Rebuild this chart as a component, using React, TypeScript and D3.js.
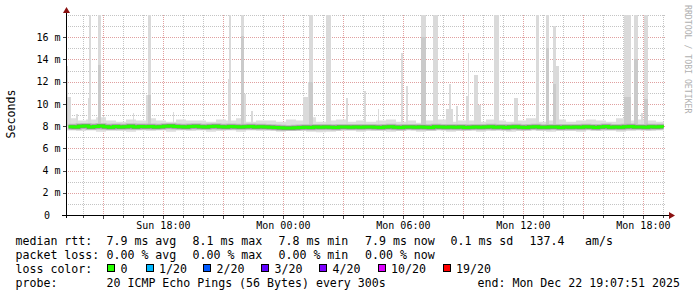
import React from "react";
import * as d3 from "d3";

// ---------- data ----------
const START = Date.UTC(2025, 11, 21, 13, 7, 51);
const END = Date.UTC(2025, 11, 22, 19, 7, 51);
const MIN = 60000;

// median rtt in ms, one value per 15 minutes
const medianMs = [
  7.95, 7.92, 7.98, 8.0, 7.93, 7.96, 8.02, 7.94, 7.9, 7.97, 7.93, 7.95, 7.99, 7.92, 7.96, 7.94, 7.97, 7.93, 7.95, 7.98,
  8.02, 7.97, 7.95, 7.93, 7.96, 7.99, 7.94, 7.92, 7.96, 7.98, 7.95, 7.93, 7.97, 7.95, 7.91, 7.94, 7.96, 7.93, 7.95, 7.92,
  7.9, 7.88, 7.85, 7.84, 7.83, 7.86, 7.88, 7.9, 7.87, 7.91, 7.89, 7.92, 7.9, 7.88, 7.91, 7.93, 7.9, 7.92, 7.89, 7.91,
  7.93, 7.9, 7.88, 7.92, 7.95, 7.9, 7.87, 7.91, 7.93, 7.89, 7.92, 7.9, 7.88, 7.94, 7.91, 7.89, 7.92, 7.9, 7.93, 7.88,
  7.9, 7.93, 7.89, 7.91, 7.95, 7.9, 7.92, 7.88, 7.91, 7.94, 7.9, 7.87, 7.92, 7.95, 7.9, 7.89, 7.93, 7.91, 7.88, 7.92,
  7.9, 7.93, 7.89, 7.95, 7.91, 7.88, 7.92, 7.96, 7.9, 7.93, 7.89, 7.94, 7.97, 7.91, 7.93, 7.9, 7.95, 7.92, 7.94, 7.9,
];

// smoke envelope in ms, one value per 30 minutes
const smokeHiMs = [
  8.7, 8.5, 8.6, 8.8, 8.5, 8.4, 8.6, 8.5, 8.7, 8.5,
  8.4, 8.6, 8.5, 8.5, 8.4, 8.6, 8.5, 8.7, 8.4, 8.5,
  8.5, 8.4, 8.6, 8.5, 8.8, 8.4, 8.5, 8.6, 8.4, 8.5,
  8.4, 8.5, 8.6, 8.4, 8.5, 8.3, 8.5, 8.6, 8.4, 8.5,
  8.5, 8.4, 8.6, 8.5, 8.4, 8.5, 8.7, 8.4, 8.5, 8.6,
  8.4, 8.5, 8.6, 8.5, 8.4, 8.7, 8.5, 8.6, 8.5, 8.4,
];
const smokeLoMs = [
  7.6, 7.55, 7.6, 7.5, 7.6, 7.55, 7.5, 7.6, 7.55, 7.6,
  7.5, 7.6, 7.55, 7.6, 7.5, 7.55, 7.6, 7.5, 7.6, 7.55,
  7.6, 7.5, 7.55, 7.6, 7.5, 7.45, 7.5, 7.55, 7.6, 7.5,
  7.55, 7.6, 7.5, 7.55, 7.6, 7.5, 7.55, 7.6, 7.5, 7.55,
  7.6, 7.5, 7.55, 7.6, 7.5, 7.55, 7.6, 7.55, 7.5, 7.6,
  7.55, 7.5, 7.6, 7.55, 7.6, 7.5, 7.55, 7.6, 7.55, 7.6,
];

// high-ping smoke spikes: 5-minute step index, number of steps, top (ms), inner top (ms, 0 = none)
const spikeStep = [0, 1, 6, 13, 14, 19, 22, 40, 48, 49, 64, 97, 98, 105, 107, 111, 142, 145, 146, 156, 168, 179, 187, 201, 204, 213, 220, 228, 230, 234, 240, 241, 245, 247, 257, 269, 282, 288, 292, 294, 335, 341, 345, 347];
const spikeSpan = [1, 2, 1, 2, 1, 2, 1, 1, 1, 2, 1, 2, 1, 2, 1, 1, 3, 1, 2, 3, 1, 1, 1, 1, 1, 3, 3, 4, 1, 1, 2, 1, 2, 2, 3, 2, 2, 2, 2, 2, 4, 2, 1, 2];
const spikeTopMs = [13.4, 10.6, 9.1, 10.5, 18, 18, 8.9, 9.2, 10.8, 18, 9.3, 12.2, 18, 18, 10.9, 9.4, 10.6, 12.0, 18, 18, 10.5, 11.2, 9.5, 14.6, 11.6, 18, 18, 9.5, 11.8, 9.8, 10.7, 14.6, 12.6, 9.9, 18, 10.5, 18, 18, 17, 13.4, 18, 18, 9.2, 18];
const spikeMidMs = [10.6, 0, 0, 0, 0, 13.5, 0, 0, 0, 10.8, 0, 0, 0, 16.1, 0, 0, 0, 0, 12.0, 0, 0, 0, 0, 0, 0, 16, 0, 0, 0, 0, 0, 0, 0, 0, 0, 0, 0, 15, 11.8, 0, 10.6, 14, 0, 10.4];

const yTicks = [0, 2, 4, 6, 8, 10, 12, 14, 16];
const yTickLabels = ["0", "2 m", "4 m", "6 m", "8 m", "10 m", "12 m", "14 m", "16 m"];

const legendRows: [number, string][][] = [
  [[16, "median rtt:"], [107, "7.9 ms avg"], [193, "8.1 ms max"], [279, "7.8 ms min"], [365.5, "7.9 ms now"], [451, "0.1 ms sd"], [530, "137.4"], [585.5, "am/s"]],
  [[16, "packet loss:"], [107, "0.00 % avg"], [193, "0.00 % max"], [279, "0.00 % min"], [365.5, "0.00 % now"]],
  [[16, "loss color:"]],
  [[16, "probe:"], [107, "20 ICMP Echo Pings (56 Bytes) every 300s"], [478, "end: Mon Dec 22 19:07:51 2025"]],
];
const lossLabels = ["0", "1/20", "2/20", "3/20", "4/20", "10/20", "19/20"];
const lossColors = ["#26ff00", "#00b8ff", "#0059ff", "#5e00ff", "#7e00ff", "#dd00ff", "#ff0000"];
const lossBoxX = [107, 145.5, 203, 261, 319, 377.5, 442.5];

// ---------- layout ----------
const W = 697, H = 297;
const X0 = 66, X1 = 666, Y0 = 215, Y1 = 15;
const MONO = "'DejaVu Sans Mono', monospace";

export default function App() {
  const x = d3.scaleUtc().domain([START, END]).range([X0, X1]);
  const y = d3.scaleLinear().domain([0, 18]).range([Y0, Y1]);
  const px = (v: number) => Math.round(v) + 0.5;

  const hours = x.ticks(d3.utcHour.every(1)!);
  const minorY = d3.range(1, 19);

  const smokePts: [number, number, number][] = [];
  smokeHiMs.forEach((hi, i) => {
    const t0 = START + i * 30 * MIN, t1 = t0 + 30 * MIN;
    smokePts.push([t0, smokeLoMs[i], hi], [t1, smokeLoMs[i], hi]);
  });
  const smokeArea = d3.area<[number, number, number]>()
    .x(d => x(d[0])).y0(d => y(d[1])).y1(d => y(d[2]));

  const medianLine = d3.line<number>()
    .x((_, i) => x(START + i * 15 * MIN + 7.5 * MIN))
    .y(d => y(d))
    .curve(d3.curveStepAfter);

  const fmt = d3.utcFormat("%a %H:%M");
  const labelTimes = hours.filter(t => t.getUTCHours() % 6 === 0);

  return (
    <svg width={W} height={H} style={{ position: "absolute", left: 0, top: 0, background: "#fff" }}
      xmlns="http://www.w3.org/2000/svg">
      <rect x={0} y={0} width={W} height={H} fill="#fff" />
      <defs>
        <clipPath id="plot"><rect x={X0 + 1} y={Y1} width={664 - X0 - 1} height={Y0 - Y1} /></clipPath>
      </defs>

      {/* grid */}
      <g shapeRendering="crispEdges">
        {minorY.filter(v => v % 2 !== 0 || v === 18).map(v => (
          <line key={"my" + v} x1={X0} x2={X1} y1={px(y(v))} y2={px(y(v))} stroke="#c4c4c4" strokeDasharray="1,1" />
        ))}
        {hours.filter(t => t.getUTCHours() % 3 !== 0).map(t => (
          <line key={"mx" + +t} x1={px(x(t))} x2={px(x(t))} y1={Y1} y2={Y0} stroke="#c4c4c4" strokeDasharray="1,1" />
        ))}
        {yTicks.filter(v => v > 0).map(v => (
          <line key={"My" + v} x1={X0} x2={X1} y1={px(y(v))} y2={px(y(v))} stroke="#e0a0a0" strokeDasharray="1,1" />
        ))}
        {hours.filter(t => t.getUTCHours() % 3 === 0).map(t => (
          <line key={"Mx" + +t} x1={px(x(t))} x2={px(x(t))} y1={Y1} y2={Y0} stroke="#e0a0a0" strokeDasharray="1,1" />
        ))}
      </g>

      {/* smoke */}
      <g clipPath="url(#plot)">
        <path d={smokeArea(smokePts) || ""} fill="#dedede" />
        <g shapeRendering="crispEdges">
          {spikeStep.map((s, i) => {
            const xa = x(START + s * 5 * MIN);
            const w = spikeSpan[i] * 600 / 360;
            return (
              <g key={"sp" + i}>
                <rect x={xa} width={w} y={y(spikeTopMs[i])} height={y(8) - y(spikeTopMs[i])} fill="#dadada" />
                {spikeMidMs[i] > 0 && (
                  <rect x={xa} width={w} y={y(spikeMidMs[i])} height={y(8) - y(spikeMidMs[i])} fill="#cacaca" />
                )}
              </g>
            );
          })}
        </g>
        <path d={medianLine(medianMs) || ""} fill="none" stroke="#bdbdbd" strokeWidth={6} />
        <path d={medianLine(medianMs) || ""} fill="none" stroke="#8a8a8a" strokeWidth={4} />
        <path d={medianLine(medianMs) || ""} fill="none" stroke="#26ff00" strokeWidth={3} />
      </g>

      {/* axes */}
      <g shapeRendering="crispEdges" stroke="#000">
        <line x1={62} x2={670} y1={Y0 + 0.5} y2={Y0 + 0.5} />
        <line x1={X0 + 0.5} x2={X0 + 0.5} y1={10} y2={Y0 + 3} />
        {hours.map(t => (
          <line key={"tx" + +t} x1={px(x(t))} x2={px(x(t))} y1={Y0 + 1} y2={Y0 + (t.getUTCHours() % 3 === 0 ? 4 : 3)} stroke="#444" />
        ))}
        {yTicks.filter(v => v > 0).map(v => (
          <line key={"ty" + v} x1={X0 - 3} x2={X0} y1={px(y(v))} y2={px(y(v))} stroke="#444" />
        ))}
      </g>
      <path d={`M${X0 + 0.5},7 L${X0 - 3},13 L${X0 + 4},13 Z`} fill="#8a1010" />
      <path d={`M675,${Y0 + 0.5} L669,${Y0 - 3} L669,${Y0 + 4} Z`} fill="#8a1010" />

      {/* tick labels */}
      <g fontFamily={MONO} fontSize={10} fill="#000">
        {yTicks.map((v, i) => v === 0 ? (
          <text key={"yl" + v} x={44} y={y(v) + 3.7}>{yTickLabels[i]}</text>
        ) : (
          <text key={"yl" + v} x={60.5} y={y(v) + 3.7} textAnchor="end">{yTickLabels[i]}</text>
        ))}
        {labelTimes.map(t => (
          <text key={"xl" + +t} x={x(t)} y={229} textAnchor="middle">{fmt(t)}</text>
        ))}
      </g>

      <text transform="translate(14.5,114) rotate(-90)" textAnchor="middle" fontFamily={MONO} fontSize={11.6}>Seconds</text>
      <text transform="translate(685,5) rotate(90)" fontFamily={MONO} fontSize={8.2} fill="#b0b0b0">RRDTOOL / TOBI OETIKER</text>

      {/* legend */}
      <g fontFamily={MONO} fontSize={11.6} fill="#000" style={{ whiteSpace: "pre" }}>
        {legendRows.map((row, r) => row.map(([lx, s], k) => (
          <text key={r + "-" + k} x={lx - 0.5} y={[245, 259, 272.5, 286.5][r]}>{s}</text>
        )))}
        {lossLabels.map((s, i) => (
          <g key={"lc" + i}>
            <rect x={lossBoxX[i] + 0.5} y={264.5} width={7} height={7} fill={lossColors[i]} stroke="#000" shapeRendering="crispEdges" />
            <text x={lossBoxX[i] + 13.5} y={272.5}>{s}</text>
          </g>
        ))}
      </g>
    </svg>
  );
}
